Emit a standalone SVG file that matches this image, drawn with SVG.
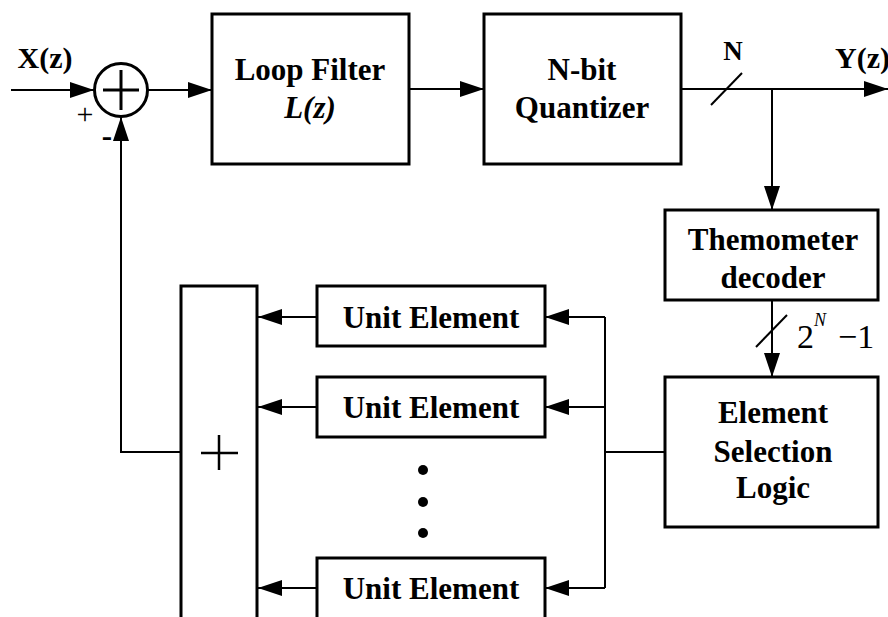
<svg xmlns="http://www.w3.org/2000/svg" width="888" height="617" viewBox="0 0 888 617">
<style>
.box{fill:#fff;stroke:#000;stroke-width:3}
.ln{fill:none;stroke:#000;stroke-width:2}
.t{font-family:"Liberation Serif","Times New Roman",serif;font-weight:bold;font-size:31px;fill:#000;text-anchor:middle}
.n{font-family:"Liberation Serif","Times New Roman",serif;font-size:34px;fill:#000}
</style>
<defs>
<marker id="ah" markerWidth="24" markerHeight="16" refX="24" refY="8" orient="auto" markerUnits="userSpaceOnUse">
<path d="M0,0 L24,8 L0,16 Z" fill="#000"/>
</marker>
</defs>
<rect width="888" height="617" fill="#fff"/>
<g id="connectors">
<line class="ln" x1="11" y1="90" x2="94" y2="90" marker-end="url(#ah)"/>
<line class="ln" x1="147" y1="90" x2="212" y2="90" marker-end="url(#ah)"/>
<line class="ln" x1="409" y1="89" x2="484" y2="89" marker-end="url(#ah)"/>
<line class="ln" x1="681" y1="89" x2="888" y2="89" marker-end="url(#ah)"/>
<line class="ln" x1="711" y1="105" x2="742" y2="73" stroke-width="3"/>
<line class="ln" x1="772" y1="89" x2="772" y2="210" marker-end="url(#ah)"/>
<line class="ln" x1="772" y1="300" x2="772" y2="377" marker-end="url(#ah)"/>
<line class="ln" x1="756" y1="347" x2="787" y2="315" stroke-width="3"/>
<polyline class="ln" points="181,452 121,452 121,117" marker-end="url(#ah)"/>
<line class="ln" x1="665" y1="452" x2="605" y2="452"/>
<line class="ln" x1="605" y1="317" x2="605" y2="588"/>
<line class="ln" x1="605" y1="317" x2="545" y2="317" marker-end="url(#ah)"/>
<line class="ln" x1="605" y1="407" x2="545" y2="407" marker-end="url(#ah)"/>
<line class="ln" x1="605" y1="588" x2="545" y2="588" marker-end="url(#ah)"/>
<line class="ln" x1="317" y1="317" x2="258" y2="317" marker-end="url(#ah)"/>
<line class="ln" x1="317" y1="407" x2="258" y2="407" marker-end="url(#ah)"/>
<line class="ln" x1="317" y1="588" x2="258" y2="588" marker-end="url(#ah)"/>
</g>
<g id="sum">
<circle cx="121" cy="90" r="26.5" fill="#fff" stroke="#000" stroke-width="3"/>
<line x1="103" y1="90" x2="139" y2="90" stroke="#000" stroke-width="3"/>
<line x1="121" y1="70" x2="121" y2="110" stroke="#000" stroke-width="3"/>
<text x="85" y="124" class="n" style="font-size:30px;text-anchor:middle">+</text>
<text x="107" y="146" class="t">-</text>
</g>
<g id="labels">
<text x="45" y="68" class="t" style="font-size:30px">X(z)</text>
<text x="733" y="60" class="t" style="font-size:27px">N</text>
<text x="835" y="68" class="t" style="font-size:30px;text-anchor:start">Y(z)</text>
<text x="797" y="348" class="n">2</text>
<text x="814" y="326" class="n" style="font-size:18px;font-style:italic">N</text>
<text x="838" y="348" class="n">−1</text>
</g>
<g id="loopfilter">
<rect class="box" x="212" y="14" width="197" height="150"/>
<text x="310" y="80" class="t">Loop Filter</text>
<text x="310" y="118" class="t" style="font-style:italic">L(z)</text>
</g>
<g id="quantizer">
<rect class="box" x="484" y="14" width="197" height="150"/>
<text x="582" y="80" class="t">N-bit</text>
<text x="582" y="118" class="t">Quantizer</text>
</g>
<g id="decoder">
<rect class="box" x="665" y="210" width="213" height="90"/>
<text x="773" y="250" class="t">Themometer</text>
<text x="773" y="288" class="t">decoder</text>
</g>
<g id="selection">
<rect class="box" x="665" y="377" width="213" height="150"/>
<text x="773" y="423" class="t">Element</text>
<text x="773" y="462" class="t">Selection</text>
<text x="773" y="498" class="t">Logic</text>
</g>
<g id="adder">
<path class="box" d="M181,625 L181,286 L257,286 L257,625"/>
<line x1="201" y1="453" x2="238" y2="453" stroke="#000" stroke-width="2.5"/>
<line x1="219" y1="435" x2="219" y2="470" stroke="#000" stroke-width="2.5"/>
</g>
<g id="ue1">
<rect class="box" x="317" y="286" width="228" height="60"/>
<text x="431" y="328" class="t">Unit Element</text>
</g>
<g id="ue2">
<rect class="box" x="317" y="377" width="228" height="60"/>
<text x="431" y="418" class="t">Unit Element</text>
</g>
<g id="dots">
<circle cx="423" cy="470" r="5"/>
<circle cx="423" cy="502" r="5"/>
<circle cx="423" cy="533" r="5"/>
</g>
<g id="ue3">
<rect class="box" x="317" y="558" width="228" height="70"/>
<text x="431" y="599" class="t">Unit Element</text>
</g>
</svg>
